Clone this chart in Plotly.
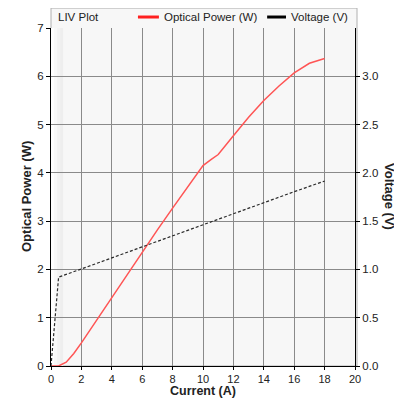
import plotly.graph_objects as go

# Data
current_p = [0, 0.5, 1, 1.5, 2, 3, 4, 5, 6, 7, 8, 9, 10, 10.5, 11, 12, 13, 14, 15, 16, 17, 18]
power_w = [0, 0, 0.08, 0.26, 0.48, 0.95, 1.43, 1.9, 2.37, 2.82, 3.27, 3.72, 4.15, 4.27, 4.38, 4.77, 5.15, 5.5, 5.8, 6.07, 6.27, 6.37]
current_v = [0, 0.5, 2, 4, 6, 8, 10, 12, 14, 16, 18]
voltage_v = [0, 0.92, 1.005, 1.12, 1.235, 1.35, 1.465, 1.58, 1.69, 1.805, 1.915]

x_ticks = [0, 2, 4, 6, 8, 10, 12, 14, 16, 18, 20]
y_ticks = [0, 1, 2, 3, 4, 5, 6, 7]
y2_ticks = [0, 0.5, 1.0, 1.5, 2.0, 2.5, 3.0]
series_names = ["Optical Power (W)", "Voltage (V)"]

FONT = "Liberation Sans, Arial, sans-serif"
RED = "#ff5555"
TXT = "#222222"

fig = go.Figure()
fig.add_trace(go.Scatter(x=current_p, y=power_w, mode="lines", line=dict(color=RED, width=1.5),
                         showlegend=False, name=series_names[0]))
fig.add_trace(go.Scatter(x=current_v, y=voltage_v, mode="lines", yaxis="y2",
                         line=dict(color="#2a2a2a", width=1.2, dash="3px,2px"),
                         showlegend=False, name=series_names[1]))

shapes = []
# frame with header
shapes.append(dict(type="rect", xref="paper", yref="paper", x0=0, x1=1.0066, y0=0, y1=1.059,
                   line=dict(color="#b0b0b0", width=1), fillcolor="#f7f7f7", layer="below"))
# background gradient strips (left lighter)
steps = [("#ffffff", 0.000, 0.010), ("#f9f9f9", 0.010, 0.020), ("#f3f3f3", 0.020, 0.030), ("#eeeeee", 0.030, 0.040)]
for col, a, b in steps:
    shapes.append(dict(type="rect", xref="paper", yref="paper", x0=a, x1=b, y0=0, y1=1,
                       line=dict(width=0), fillcolor=col, layer="below"))
# legend symbols in header
leg_y = 1.0325
shapes.append(dict(type="line", xref="paper", yref="paper", x0=0.286, x1=0.355, y0=leg_y, y1=leg_y,
                   line=dict(color="#ff2020", width=3)))
shapes.append(dict(type="line", xref="paper", yref="paper", x0=0.711, x1=0.773, y0=leg_y, y1=leg_y,
                   line=dict(color="#000000", width=3)))

# page has an 8px body margin; figure coordinates are offset accordingly
fig.update_layout(
    width=394, height=390,
    margin=dict(l=43, r=47, t=20, b=32),
    paper_bgcolor="white", plot_bgcolor="#e9e9e9",
    font=dict(family=FONT, size=11, color=TXT),
    showlegend=False,
    xaxis=dict(range=[0, 20], tickvals=x_ticks, showgrid=True, gridcolor="#8a8a8a", gridwidth=1,
               showline=True, linecolor="black", linewidth=1, ticks="outside", ticklen=3,
               tickcolor="black", zeroline=False, automargin=False,
               tickfont=dict(size=11, color=TXT)),
    yaxis=dict(range=[0, 7], tickvals=y_ticks, showgrid=True, gridcolor="#8a8a8a", gridwidth=1,
               showline=True, linecolor="black", linewidth=1, ticks="outside", ticklen=4,
               tickcolor="black", zeroline=False, automargin=False,
               tickfont=dict(size=11.5, color=TXT)),
    yaxis2=dict(range=[0, 3.5], tickvals=y2_ticks, tickformat=".1f", overlaying="y", side="right",
                showgrid=False, showline=True, linecolor="black", linewidth=1, ticks="outside",
                ticklen=4, tickcolor="black", zeroline=False, automargin=False,
                tickfont=dict(size=11.5, color=TXT)),
    shapes=shapes,
    annotations=[
        dict(text="LIV Plot", xref="paper", yref="paper", x=0.016, y=leg_y, xanchor="left",
             yanchor="middle", showarrow=False, font=dict(size=11.5, color=TXT)),
        dict(text=series_names[0], xref="paper", yref="paper", x=0.365, y=leg_y, xanchor="left",
             yanchor="middle", showarrow=False, font=dict(size=11.5, color=TXT)),
        dict(text=series_names[1], xref="paper", yref="paper", x=0.783, y=leg_y, xanchor="left",
             yanchor="middle", showarrow=False, font=dict(size=11.5, color=TXT)),
        dict(text="<b>Current (A)</b>", xref="paper", yref="paper", x=0.5, y=0, yshift=-24.5,
             xanchor="center", yanchor="middle", showarrow=False, font=dict(size=12.5, color=TXT)),
        dict(text="<b>Optical Power (W)</b>", xref="paper", yref="paper", x=0, xshift=-25, y=0.5,
             xanchor="center", yanchor="middle",
             textangle=-90, showarrow=False, font=dict(size=13, color=TXT)),
        dict(text="<b>Voltage (V)</b>", xref="paper", yref="paper", x=1.0, xshift=34, y=0.503,
             xanchor="center", yanchor="middle",
             textangle=90, showarrow=False, font=dict(size=13, color=TXT)),
    ],
)

fig.write_html("out.html")
